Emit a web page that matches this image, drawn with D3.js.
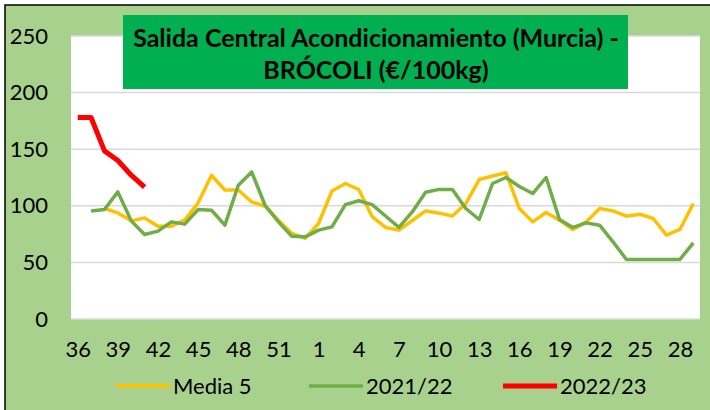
<!DOCTYPE html>
<html>
<head>
<meta charset="utf-8">
<script src="https://cdn.jsdelivr.net/npm/d3@7"></script>
<style>
  html, body { margin: 0; padding: 0; background: #fff; }
  svg { display: block; font-family: Lato, "Open Sans", sans-serif; }
</style>
</head>
<body>
<div id="chart"></div>
<script>
// Weeks of the campaign (36..53, then 1..29)
const weeks = [36, 37, 38, 39, 40, 41, 42, 43, 44, 45, 46, 47, 48, 49, 50, 51, 52, 53,
  1, 2, 3, 4, 5, 6, 7, 8, 9, 10, 11, 12, 13, 14, 15, 16, 17, 18, 19, 20,
  21, 22, 23, 24, 25, 26, 27, 28, 29];

// Media 5 (yellow)
const media5 = [null, null, 97.6, 93.7, 86.7, 89.3, 82, 82, 87.3, 102.6, 127, 114, 114, 103.4,
  99.6, 87.3, 75.6, 71.2, 84.4, 113.1, 119.7, 114.4, 90.5, 80.9, 78.5, 87, 95.5, 93.5,
  91, 102, 123.2, 126.3, 129.2, 97.6, 85.8, 94.1, 87.3, 79.1, 85.8, 97.6, 95.5, 90.8,
  92.6, 88.8, 74.1, 79.1, 102];

// 2021/22 (green)
const s2122 = [null, 95.5, 96.7, 112.3, 86.7, 74.7, 77.6, 85.8, 83.8, 96.7, 96.1, 82.9, 118.2,
  129.9, 100.5, 85.8, 73, 72.6, 78.5, 81.4, 101, 104.5, 101, 91, 81, 94.6, 112, 114.5,
  114.5, 97.6, 87.9, 119.7, 125, 117, 110.8, 125, 87.9, 80.9, 84.9, 82.9, 68.2, 52.6,
  52.6, 52.6, 52.6, 52.6, 67.3];

// 2022/23 (red)
const s2223 = [178, 178, 148.5, 140, 127, 116.5];

const yTicks = [0, 50, 100, 150, 200, 250];

const series = [
  { name: "Media 5", values: media5, color: "#FFC000", width: 3.5 },
  { name: "2021/22", values: s2122, color: "#70AD47", width: 3.5 },
  { name: "2022/23", values: s2223, color: "#FF0000", width: 5 }
];

const width = 710;
const height = 410;
const plot = { left: 71, right: 700, top: 36, bottom: 319 };

const svg = d3.select("#chart").append("svg")
    .attr("width", width)
    .attr("height", height);

// Outer background and border
svg.append("rect")
    .attr("x", 0).attr("y", 0)
    .attr("width", width).attr("height", height)
    .attr("fill", "#FFFFFF");
svg.append("rect")
    .attr("x", 5).attr("y", 5)
    .attr("width", width + 20).attr("height", height + 20)
    .attr("fill", "#A9D18E")
    .attr("stroke", "#000")
    .attr("stroke-width", 1.5);

// Plot area
svg.append("rect")
    .attr("x", plot.left).attr("y", plot.top)
    .attr("width", plot.right - plot.left)
    .attr("height", plot.bottom - plot.top)
    .attr("fill", "#FFFFFF");

const x = d3.scalePoint()
    .domain(d3.range(weeks.length))
    .range([plot.left, plot.right])
    .padding(0.5);

const y = d3.scaleLinear()
    .domain([0, 250])
    .range([plot.bottom, plot.top]);

// Gridlines
svg.append("g")
    .selectAll("line")
    .data(yTicks)
    .join("line")
    .attr("x1", plot.left).attr("x2", plot.right)
    .attr("y1", d => y(d)).attr("y2", d => y(d))
    .attr("stroke", "#D9D9D9")
    .attr("stroke-width", 1.5);

// Y axis labels
const yAxis = svg.append("g")
    .attr("transform", `translate(${plot.left - 23},0)`)
    .call(d3.axisLeft(y).tickValues(yTicks).tickSize(0).tickPadding(0));
yAxis.select(".domain").remove();
yAxis.selectAll("text")
    .attr("font-size", 22)
    .attr("font-family", "Lato, sans-serif")
    .attr("fill", "#000");

// X axis labels (every third week)
const xAxis = svg.append("g")
    .attr("transform", `translate(0,${plot.bottom + 22})`)
    .call(d3.axisBottom(x)
        .tickValues(d3.range(0, weeks.length, 3))
        .tickFormat(i => weeks[i])
        .tickSize(0)
        .tickPadding(0));
xAxis.select(".domain").remove();
xAxis.selectAll("text")
    .attr("font-size", 22)
    .attr("font-family", "Lato, sans-serif")
    .attr("fill", "#000");

// Lines
const line = d3.line()
    .defined(d => d != null)
    .x((d, i) => x(i))
    .y(d => y(d));

svg.append("g")
    .selectAll("path")
    .data(series)
    .join("path")
    .attr("fill", "none")
    .attr("stroke", d => d.color)
    .attr("stroke-width", d => d.width)
    .attr("stroke-linejoin", "round")
    .attr("d", d => line(d.values));

// Title box
svg.append("rect")
    .attr("x", 123).attr("y", 15)
    .attr("width", 505).attr("height", 74)
    .attr("fill", "#00B050");

const title = svg.append("text")
    .attr("text-anchor", "middle")
    .attr("font-weight", "bold")
    .attr("font-size", 25)
    .attr("fill", "#000");
title.append("tspan")
    .attr("x", 376).attr("y", 47)
    .text("Salida Central Acondicionamiento (Murcia) -");
title.append("tspan")
    .attr("x", 376).attr("y", 79)
    .text("BRÓCOLI (€/100kg)");

// Legend
const legendX = [116, 309, 503];
const legend = svg.append("g")
    .selectAll("g")
    .data(series)
    .join("g")
    .attr("transform", (d, i) => `translate(${legendX[i]},386)`);
legend.append("line")
    .attr("x1", 0).attr("x2", 54)
    .attr("y1", 0).attr("y2", 0)
    .attr("stroke", d => d.color)
    .attr("stroke-width", d => d.width);
legend.append("text")
    .attr("x", 57)
    .attr("y", 8)
    .attr("font-size", 22)
    .attr("fill", "#000")
    .text(d => d.name);
</script>
</body>
</html>
